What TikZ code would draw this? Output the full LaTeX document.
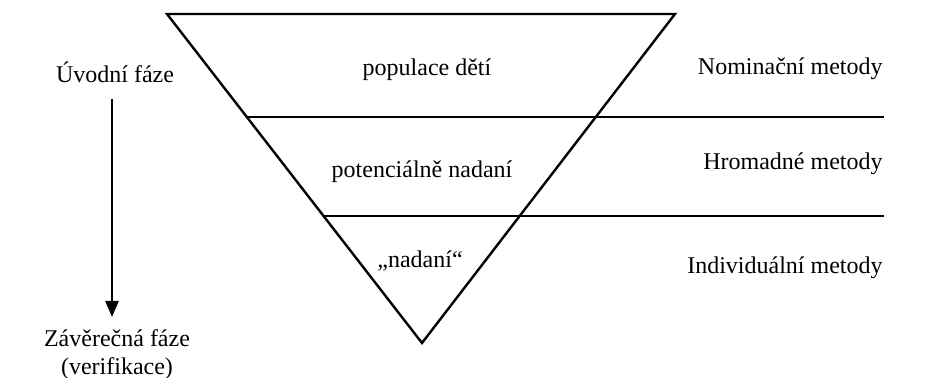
\documentclass[tikz,border=0pt]{standalone}
\usepackage{fontspec}
\setmainfont{Liberation Serif}
\usetikzlibrary{arrows.meta}
\begin{document}
\begin{tikzpicture}[x=0.5pt,y=-0.5pt,
  lbl/.style={font=\fontsize{12}{14}\selectfont, inner sep=0pt},
  edge/.style={line width=1.2pt, line join=miter}]
\useasboundingbox (0,0) rectangle (944,378);
% triangle
\coordinate (tl) at (167,14);
\coordinate (tr) at (675,14);
\coordinate (ap) at (422,343);
\draw[edge] (tl) -- (tr) -- (ap) -- cycle;
% horizontal lines
\coordinate (l1a) at (247,117);
\coordinate (l1b) at (884,117);
\coordinate (l2a) at (324,216);
\coordinate (l2b) at (884,216);
\draw[edge] (l1a) -- (l1b);
\draw[edge] (l2a) -- (l2b);
% inner texts
\node[lbl] (pop) at (427,70) {populace dětí};
\node[lbl] (pot) at (422,172) {potenciálně nadaní};
\node[lbl] (nad) at (420,261) {„nadaní“};
% right texts
\node[lbl, anchor=east] (nom) at (883,69) {Nominační metody};
\node[lbl, anchor=east] (hro) at (883,164) {Hromadné metody};
\node[lbl, anchor=east] (ind) at (883,268) {Individuální metody};
% left texts
\node[lbl] (uvo) at (115,72) {Úvodní fáze};
\node[lbl, align=center] (zav) at (117,355) {Závěrečná fáze\\(verifikace)};
\coordinate (as) at (112,99);
\coordinate (ae) at (112,317);
\draw[line width=1.2pt, -{Triangle[length=8pt,width=6.5pt]}] (as) -- (ae);
\end{tikzpicture}
\end{document}
